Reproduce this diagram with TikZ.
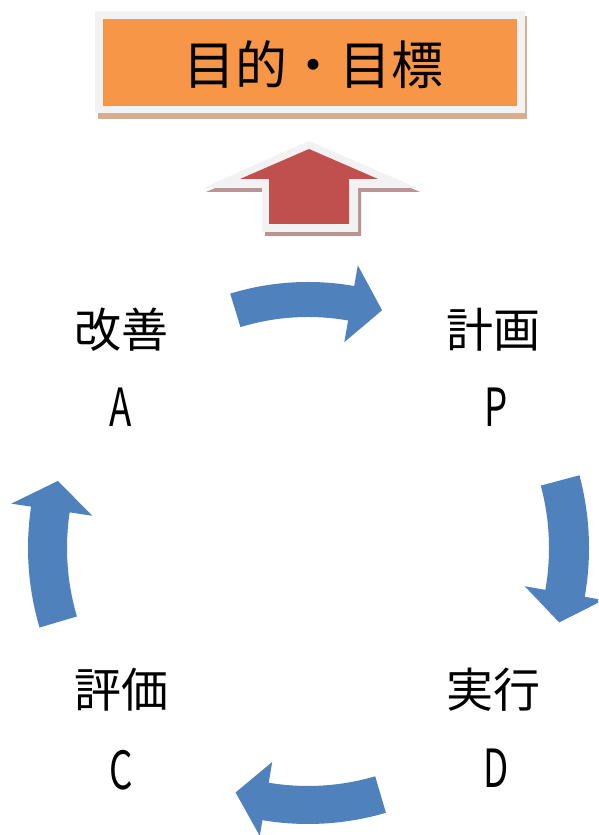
\documentclass[tikz,border=0pt]{standalone}
\usepackage{fontspec}
\setmainfont{Noto Sans CJK JP}
\newfontfamily\jpfont{Noto Sans CJK JP}
\definecolor{cycblue}{HTML}{4F81BD}
\definecolor{goalorange}{HTML}{F79646}
\definecolor{framegray}{HTML}{F2F2F2}
\definecolor{boxshadow}{HTML}{D6AE8E}
\definecolor{uparrowred}{HTML}{C0504D}
\definecolor{uparrowshadow}{HTML}{BB9393}
\newcommand\cycarrow[8]{%
  \fill[cycblue] (#1:#3pt) arc[start angle=#1, end angle=#2, radius=#3pt]
    -- (#2:#5pt) -- (#7:#8pt) -- (#2:#6pt) -- (#2:#4pt)
    arc[start angle=#2, end angle=#1, radius=#4pt] -- cycle;}
\tikzset{
  biglabel/.style={inner sep=0pt, font=\jpfont\fontsize{47}{50}\selectfont},
  letterlabel/.style={inner sep=0pt, font=\jpfont\fontsize{47}{50}\selectfont},
  titlelabel/.style={inner sep=0pt, font=\jpfont\fontsize{52}{56}\selectfont}
}
\begin{document}
\begin{tikzpicture}[x=1pt,y=1pt]
\clip (0,0) rectangle (598,835);
\fill[white] (0,0) rectangle (598,835);
% goal box
\fill[boxshadow] (98,716) rectangle (527,819);
\fill[framegray] (95,722) rectangle (525,824);
\fill[goalorange] (103,729) rectangle (517,816);
\node[titlelabel] (title) at (313,770) {目的・目標};
% up arrow
\fill[uparrowshadow, shift={(3,-4)}] (309,694) -- (417,647) -- (358,647) -- (358,603) -- (262,603) -- (262,647) -- (203,647) -- cycle;
\fill[framegray] (309,694) -- (417,647) -- (358,647) -- (358,603) -- (262,603) -- (262,647) -- (203,647) -- cycle;
\fill[uparrowred] (309,686) -- (378,656) -- (349,656) -- (349,611) -- (269,611) -- (269,656) -- (240,656) -- cycle;
% cycle arrows
\begin{scope}[shift={(308,287)}]
\cycarrow{107}{80}{231}{266}{209}{287}{72.7}{249}
\cycarrow{15}{-10}{241}{281}{220}{300}{-16.5}{262}
\cycarrow{-73.6}{-99.5}{238}{276}{217}{292}{-106.5}{255}
\cycarrow{196.5}{171.5}{241}{280}{218}{300}{165}{259}
\end{scope}
% labels
\node[biglabel] (actJ) at (121,505) {改善};
\node[letterlabel] (actL) at (121,428) {\scalebox{0.78}[1.12]{A}};
\node[biglabel] (planJ) at (493,505) {計画};
\node[letterlabel] (planL) at (496,428) {\scalebox{0.78}[1.12]{P}};
\node[biglabel] (checkJ) at (121,145) {評価};
\node[letterlabel] (checkL) at (121,65) {\scalebox{0.78}[1.12]{C}};
\node[biglabel] (doJ) at (493,145) {実行};
\node[letterlabel] (doL) at (496,67) {\scalebox{0.78}[1.12]{D}};
\end{tikzpicture}
\end{document}
